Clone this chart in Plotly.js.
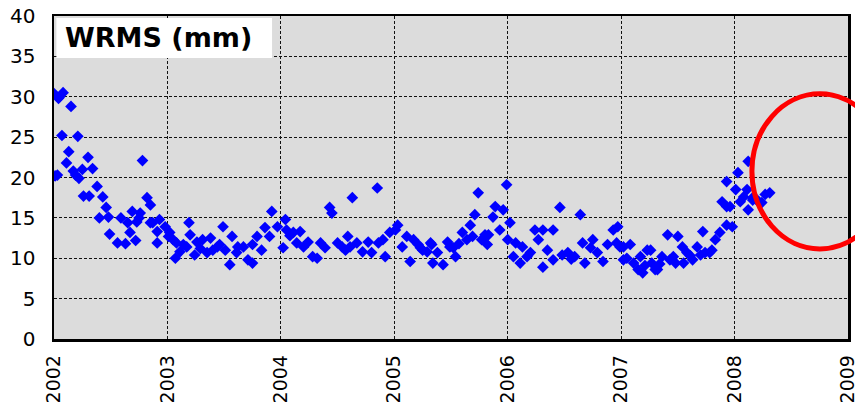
<!DOCTYPE html>
<html>
<head>
<meta charset="utf-8">
<script src="https://cdn.plot.ly/plotly-3.0.1.min.js"></script>
<style>
  html, body { margin: 0; padding: 0; background: #ffffff; }
  #chart { width: 855px; height: 410px; }
</style>
</head>
<body>
<div id="chart"></div>
<script>
// Weekly WRMS values (mm) against decimal year
const epochs = [
  2002.00, 2002.01, 2002.03, 2002.04, 2002.05, 2002.07, 2002.08, 2002.11, 2002.13, 2002.15,
  2002.17, 2002.19, 2002.21, 2002.22, 2002.25, 2002.26, 2002.30, 2002.31, 2002.34, 2002.38,
  2002.40, 2002.43, 2002.46, 2002.48, 2002.49, 2002.56, 2002.59, 2002.63, 2002.65, 2002.67,
  2002.69, 2002.72, 2002.73, 2002.75, 2002.76, 2002.78, 2002.82, 2002.85, 2002.85, 2002.87,
  2002.91, 2002.91, 2002.93, 2002.98,
  2003.01, 2003.02, 2003.05, 2003.07, 2003.08, 2003.11, 2003.14, 2003.17, 2003.19, 2003.20,
  2003.24, 2003.26, 2003.29, 2003.31, 2003.35, 2003.38, 2003.40, 2003.44, 2003.46, 2003.49,
  2003.51, 2003.55, 2003.57, 2003.61, 2003.62, 2003.67, 2003.71, 2003.75, 2003.75, 2003.79,
  2003.83, 2003.86, 2003.90, 2003.92, 2003.97,
  2004.02, 2004.04, 2004.05, 2004.08, 2004.11, 2004.14, 2004.17, 2004.20, 2004.24, 2004.28,
  2004.32, 2004.35, 2004.39, 2004.43, 2004.45, 2004.50, 2004.54, 2004.57, 2004.59, 2004.61,
  2004.63, 2004.67, 2004.72, 2004.77, 2004.80, 2004.85, 2004.86, 2004.90, 2004.92, 2004.96,
  2005.01, 2005.03, 2005.07, 2005.11, 2005.14, 2005.17, 2005.21, 2005.23, 2005.25, 2005.29,
  2005.32, 2005.33, 2005.34, 2005.38, 2005.43, 2005.47, 2005.49, 2005.52, 2005.54, 2005.57,
  2005.60, 2005.64, 2005.67, 2005.69, 2005.71, 2005.74, 2005.77, 2005.80, 2005.82, 2005.83,
  2005.87, 2005.89, 2005.93, 2005.96, 2005.99,
  2006.00, 2006.02, 2006.05, 2006.07, 2006.11, 2006.13, 2006.17, 2006.20, 2006.24, 2006.27,
  2006.31, 2006.31, 2006.35, 2006.40, 2006.40, 2006.46, 2006.48, 2006.53, 2006.56, 2006.59,
  2006.64, 2006.66, 2006.68, 2006.73, 2006.75, 2006.79, 2006.84, 2006.88, 2006.93, 2006.96,
  2006.97, 2006.99,
  2007.02, 2007.02, 2007.05, 2007.08, 2007.11, 2007.15, 2007.17, 2007.19, 2007.21, 2007.23,
  2007.26, 2007.27, 2007.30, 2007.32, 2007.34, 2007.36, 2007.41, 2007.43, 2007.46, 2007.48,
  2007.50, 2007.54, 2007.55, 2007.58, 2007.61, 2007.63, 2007.67, 2007.70, 2007.72, 2007.74,
  2007.78, 2007.80, 2007.83, 2007.87, 2007.89, 2007.93, 2007.93, 2007.93, 2007.96, 2007.98,
  2008.01, 2008.03, 2008.05, 2008.08, 2008.11, 2008.12, 2008.12, 2008.16, 2008.16, 2008.20,
  2008.21, 2008.24, 2008.27, 2008.31
];

const wrms = [
  30.4, 20.2, 20.3, 29.8, 30.0, 25.2, 30.5, 21.8, 23.2, 28.8,
  20.8, 20.3, 25.1, 19.9, 21.0, 17.7, 22.5, 17.7, 21.1, 18.9,
  15.0, 17.6, 16.3, 15.1, 13.0, 11.9, 15.0, 11.8, 14.4, 13.2,
  15.8, 12.2, 14.5, 15.0, 15.6, 22.1, 17.5, 16.6, 14.4, 14.4,
  11.9, 13.3, 14.8, 13.9,
  12.7, 13.2, 12.3, 10.0, 11.9, 10.8, 11.7, 11.4, 14.4, 12.9,
  10.4, 12.0, 11.2, 12.3, 10.7, 12.5, 11.0, 11.4, 11.7, 13.9,
  11.0, 9.2, 12.7, 10.7, 11.4, 11.4, 9.8, 11.7, 9.4, 12.7,
  11.0, 13.8, 12.7, 15.8, 13.9,
  11.3, 14.8, 13.5, 12.8, 13.2, 11.9, 13.3, 11.4, 12.0, 10.2,
  10.0, 11.9, 11.3, 16.3, 15.6, 11.9, 11.4, 11.0, 12.7, 11.4,
  17.5, 11.9, 10.8, 12.0, 10.7, 18.7, 11.9, 12.3, 10.2, 13.2,
  13.5, 14.1, 11.4, 12.7, 9.6, 12.3, 11.7, 11.3, 11.0, 10.8,
  11.9, 11.7, 9.4, 10.7, 9.2, 12.0, 11.4, 11.3, 10.2, 11.8,
  13.2, 12.3, 14.1, 12.7, 15.4, 18.1, 12.3, 12.9, 11.7, 12.9,
  15.1, 16.4, 13.5, 16.0, 19.1,
  12.3, 14.4, 10.2, 11.9, 9.4, 11.4, 10.2, 10.7, 13.5, 12.3,
  13.5, 8.9, 11.0, 13.5, 9.8, 16.3, 10.4, 10.7, 9.9, 10.2,
  15.4, 11.9, 9.4, 11.3, 12.3, 10.7, 9.6, 11.7, 13.5, 11.9,
  13.9, 11.4,
  11.4, 9.8, 10.0, 11.7, 9.4, 8.6, 10.2, 8.2, 9.1, 11.0,
  11.0, 9.4, 8.6, 8.6, 9.3, 10.2, 12.9, 9.8, 10.2, 9.4,
  12.7, 11.4, 9.4, 10.7, 10.3, 9.8, 11.4, 10.4, 13.3, 10.7,
  10.7, 11.0, 12.3, 13.2, 17.0, 14.1, 16.4, 19.5, 16.4, 13.9,
  18.5, 20.6, 17.0, 17.6, 18.5, 22.0, 16.0, 17.2, 17.5, 17.2,
  17.0, 16.9, 17.9, 18.1
];

const yearTicks = [2002, 2003, 2004, 2005, 2006, 2007, 2008, 2009];
const yTicks = [0, 5, 10, 15, 20, 25, 30, 35, 40];
const panelLabel = 'WRMS (mm)';

const tickFont = { family: 'DejaVu Sans, Liberation Sans, sans-serif', size: 20, color: '#000000' };

const trace = {
  type: 'scatter',
  mode: 'markers',
  x: epochs,
  y: wrms,
  marker: { symbol: 'diamond', size: 9, color: '#0000ff', line: { width: 0 } },
  cliponaxis: true,
  hoverinfo: 'skip'
};

const gridStyle = {
  showgrid: true,
  gridcolor: '#111111',
  gridwidth: 1,
  griddash: '3px,2px',
  zeroline: false,
  showline: true,
  linecolor: '#000000',
  linewidth: 2.5,
  mirror: true,
  ticks: '',
  ticklabeloverflow: 'allow',
  tickfont: tickFont
};

const layout = {
  width: 855,
  height: 410,
  margin: { l: 54, r: 7, t: 16, b: 71, pad: 0 },
  paper_bgcolor: '#ffffff',
  plot_bgcolor: '#dcdcdc',
  showlegend: false,
  xaxis: Object.assign({}, gridStyle, {
    range: [2002, 2009],
    tickmode: 'array',
    tickvals: yearTicks,
    ticktext: yearTicks.map(String),
    tickangle: -90,
    tickfont: { family: tickFont.family, size: 19, color: '#000000' },
    ticklabelstandoff: 6
  }),
  yaxis: Object.assign({}, gridStyle, {
    range: [0, 40],
    tickmode: 'array',
    tickvals: yTicks,
    ticktext: yTicks.map(String),
    ticklabelstandoff: 12
  }),
  shapes: [
    // white label panel in the top-left corner
    {
      type: 'rect', xref: 'paper', yref: 'paper',
      x0: 0.003, x1: 0.2746, y0: 0.870, y1: 0.994,
      fillcolor: '#ffffff', line: { width: 0 }, layer: 'above'
    },
    // red highlight ring at the end of the series
    {
      type: 'circle', xref: 'paper', yref: 'paper',
      x0: 0.879, x1: 1.050, y0: 0.279, y1: 0.759,
      line: { color: '#ff0000', width: 5 }, fillcolor: 'rgba(0,0,0,0)', layer: 'above'
    }
  ],
  annotations: [
    {
      xref: 'paper', yref: 'paper',
      x: 0.0113, y: 0.933, xanchor: 'left', yanchor: 'middle',
      text: '<b>' + panelLabel + '</b>',
      showarrow: false,
      font: { family: 'DejaVu Sans, Liberation Sans, sans-serif', size: 27, color: '#000000' }
    }
  ]
};

Plotly.newPlot('chart', [trace], layout, { displayModeBar: false, staticPlot: true });
</script>
</body>
</html>
